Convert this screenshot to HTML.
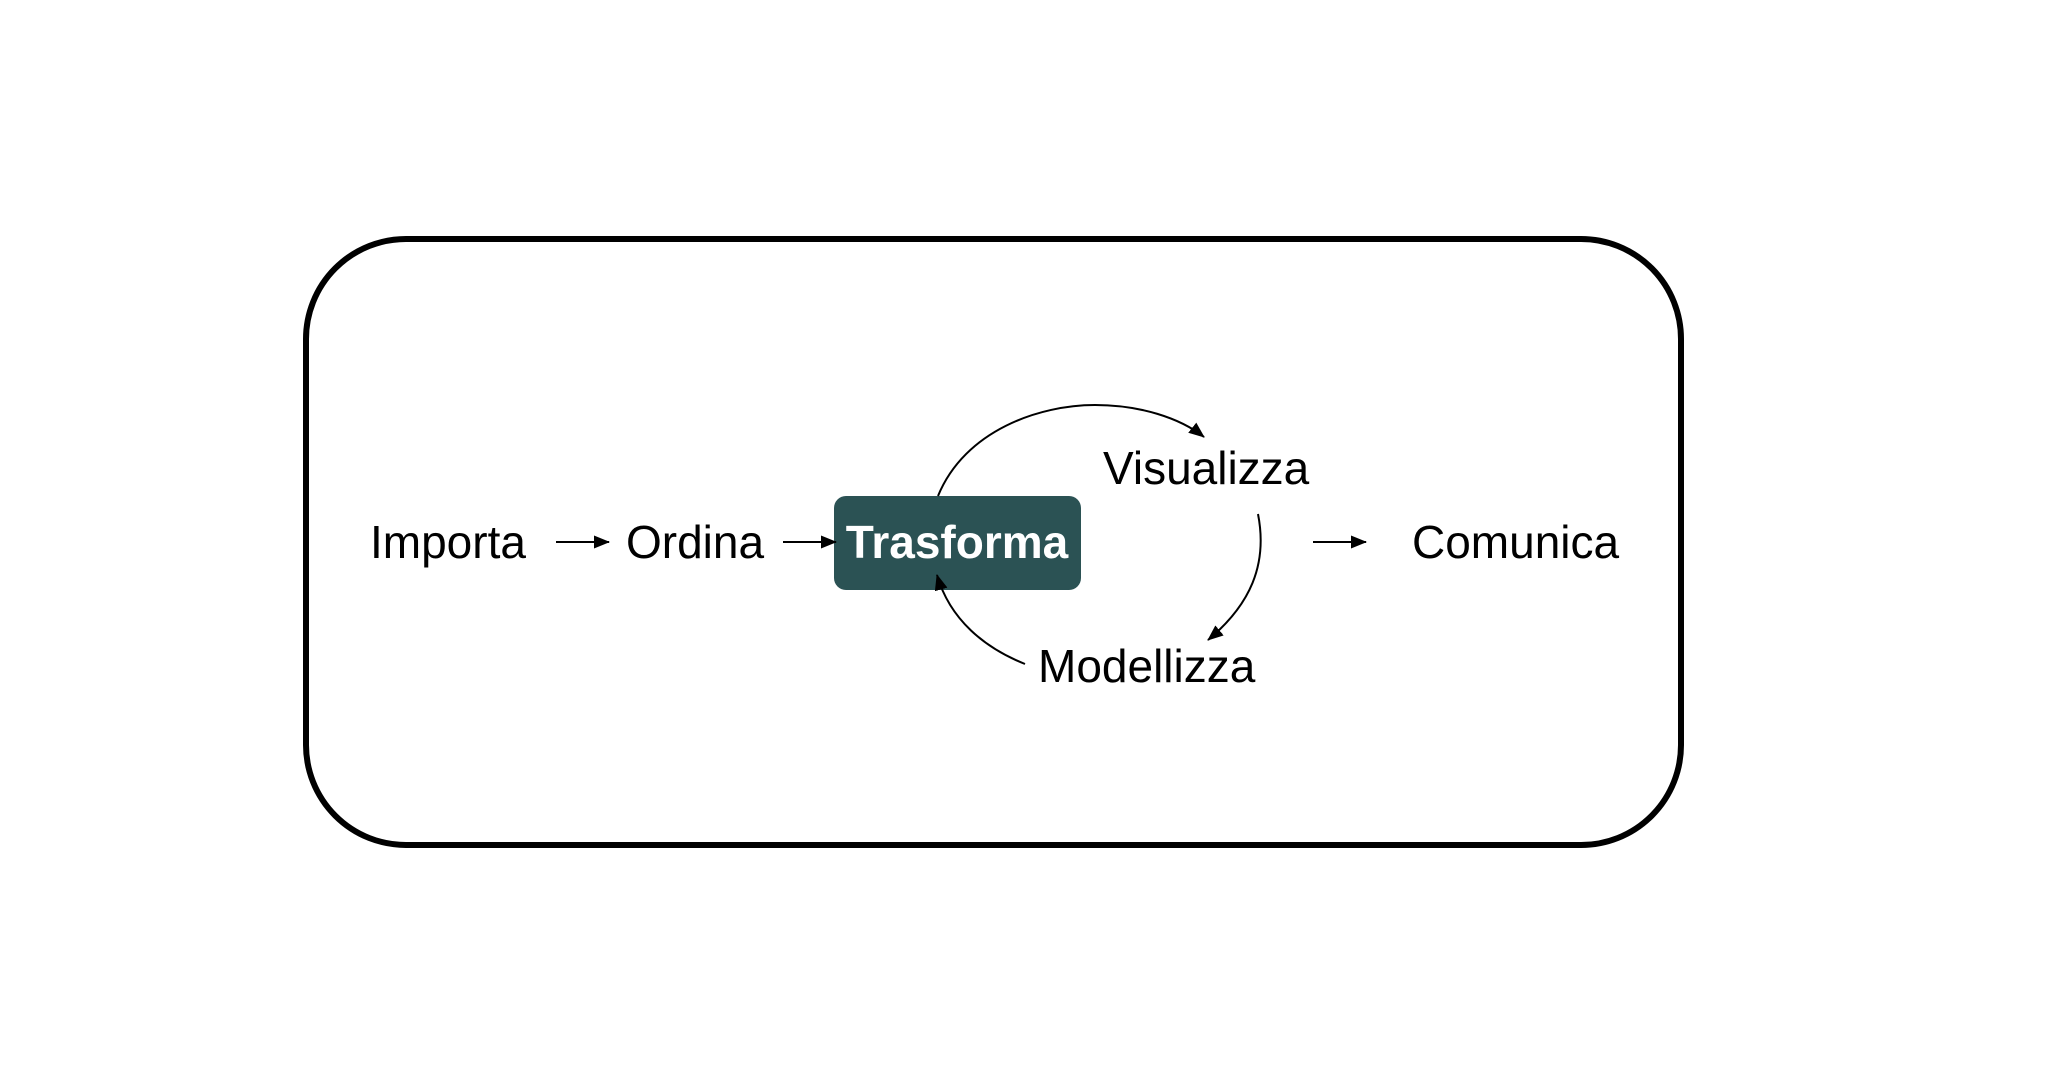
<!DOCTYPE html>
<html><head><meta charset="utf-8"><style>
body{margin:0;background:#fff;}
svg{display:block}
text{font-family:"Liberation Sans",sans-serif;font-size:46px;fill:#000}
</style></head><body>
<svg width="2057" height="1085" viewBox="0 0 2057 1085" xmlns="http://www.w3.org/2000/svg">
<defs>
<marker id="b" markerWidth="16" markerHeight="13" refX="15" refY="6.5" orient="auto" markerUnits="userSpaceOnUse"><path d="M0,0 L16,6.5 L0,13 z" fill="#000"/></marker></defs>
<rect x="306" y="239" width="1375" height="606" rx="100" ry="100" fill="none" stroke="#000" stroke-width="6"/>
<text x="370" y="558">Importa</text>
<text x="626" y="558">Ordina</text>
<rect x="834" y="496" width="247" height="94" rx="12" fill="#2b5254"/>
<text x="957" y="558" text-anchor="middle" font-weight="bold" style="fill:#fff">Trasforma</text>
<text x="1103" y="484">Visualizza</text>
<text x="1412" y="558">Comunica</text>
<text x="1038" y="682">Modellizza</text>
<g stroke="#000" stroke-width="2" fill="none">
<line x1="556" y1="542" x2="609" y2="542" marker-end="url(#b)"/>
<line x1="783" y1="542" x2="836" y2="542" marker-end="url(#b)"/>
<line x1="1313" y1="542" x2="1366" y2="542" marker-end="url(#b)"/>
<path d="M938,496 C965,430 1040,405 1095,405 C1140,405 1180,418 1204,437" marker-end="url(#b)"/>
<path d="M1258,514 C1268,565 1250,605 1208,640" marker-end="url(#b)"/>
<path d="M1025,664 C985,648 950,620 937,575" marker-end="url(#b)"/>
</g>
</svg>
</body></html>
